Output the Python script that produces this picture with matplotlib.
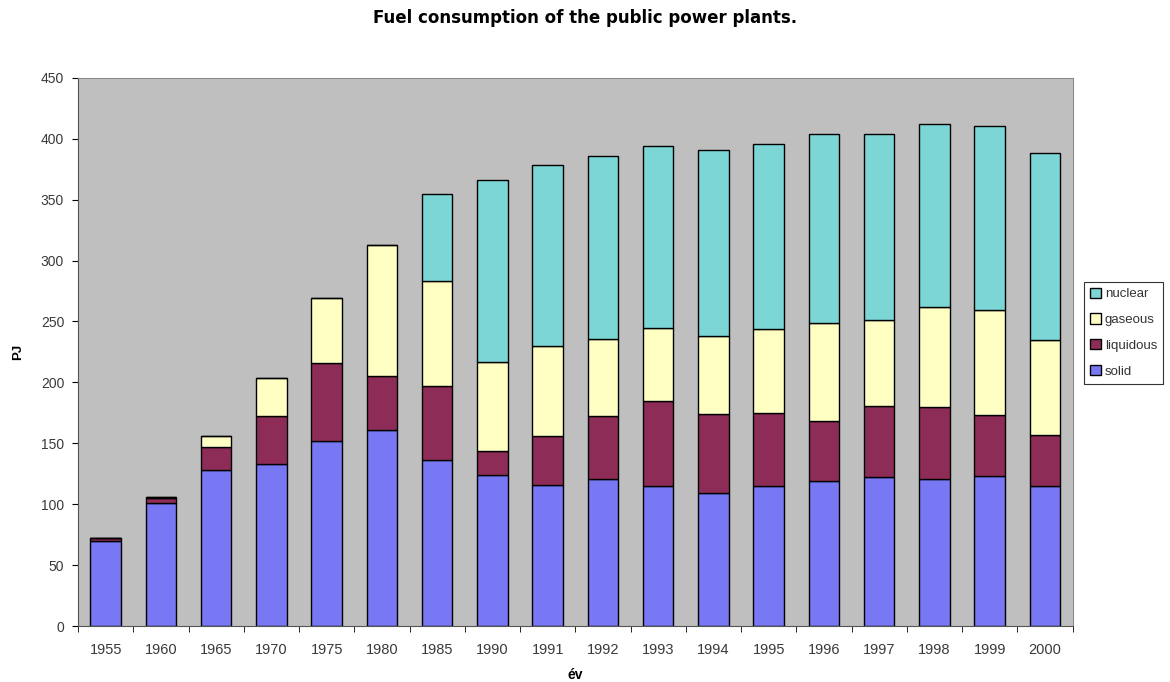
import numpy as np
import matplotlib
matplotlib.use('Agg')
import matplotlib.pyplot as plt

plt.rcParams['font.family'] = ['Liberation Sans', 'DejaVu Sans']

# Data (PJ)
years = ['1955', '1960', '1965', '1970', '1975', '1980', '1985', '1990', '1991',
         '1992', '1993', '1994', '1995', '1996', '1997', '1998', '1999', '2000']
solid = [70, 101, 128, 133, 152, 161, 136, 124, 116, 121, 115, 109, 115, 119, 122, 121, 123, 115]
liquidous = [2, 4, 19, 39, 64, 44, 61, 20, 40, 51, 70, 65, 60, 49, 59, 59, 50, 42]
gaseous = [0, 1, 9, 32, 53, 108, 86, 73, 74, 64, 60, 64, 69, 81, 70, 82, 86, 78]
nuclear = [0, 0, 0, 0, 0, 0, 72, 149, 148, 150, 149, 153, 152, 155, 153, 150, 151, 153]

series = [('solid', solid, '#7878F4'),
          ('liquidous', liquidous, '#8E2C58'),
          ('gaseous', gaseous, '#FFFFC4'),
          ('nuclear', nuclear, '#7DD6D6')]

fig = plt.figure(figsize=(11.7, 6.82), dpi=100)
ax = fig.add_axes([0.0667, 0.082, 0.85, 0.804])
ax.set_facecolor('#BFBFBF')

x = np.arange(len(years))
bottom = np.zeros(len(years))
for name, vals, col in series:
    ax.bar(x, vals, 0.55, bottom=bottom, color=col, edgecolor='black',
           linewidth=1, label=name)
    bottom += np.array(vals)

ax.set_xlim(-0.5, len(years) - 0.5)
ax.set_ylim(0, 450)
ax.set_yticks(range(0, 451, 50))
ax.set_xticks(x)
ax.set_xticklabels(years)
ax.set_xticks(np.arange(-0.5, len(years), 1), minor=True)
ax.tick_params(axis='x', which='major', length=0, labelsize=10.5, colors='#3a3a3a', pad=12)
ax.tick_params(axis='x', which='minor', length=4, direction='out', color='black')
ax.tick_params(axis='y', length=4, direction='out', labelsize=10, colors='#3a3a3a', pad=6)
ax.tick_params(axis='y', color='black')

for s in ['top', 'right']:
    ax.spines[s].set_color('#8C8C8C')
for s in ['left', 'bottom']:
    ax.spines[s].set_color('#555555')

ax.set_ylabel('PJ', fontsize=9.5, fontweight='bold', labelpad=12)
ax.set_xlabel('év', fontsize=10, fontweight='bold', labelpad=8)
fig.suptitle('Fuel consumption of the public power plants.', fontsize=12,
             fontweight='bold', family='DejaVu Sans', y=0.987)

handles, labels = ax.get_legend_handles_labels()
leg = ax.legend(handles[::-1], labels[::-1], loc='center left',
                bbox_to_anchor=(1.012, 0.535), fontsize=9.5, frameon=True,
                fancybox=False, edgecolor='black', handlelength=0.8,
                handleheight=0.8, handletextpad=0.3, labelspacing=1.0,
                borderpad=0.45, borderaxespad=0)
leg.get_frame().set_linewidth(0.8)
for t in leg.get_texts():
    t.set_color('#333333')

fig.savefig('out.png', dpi=100)
